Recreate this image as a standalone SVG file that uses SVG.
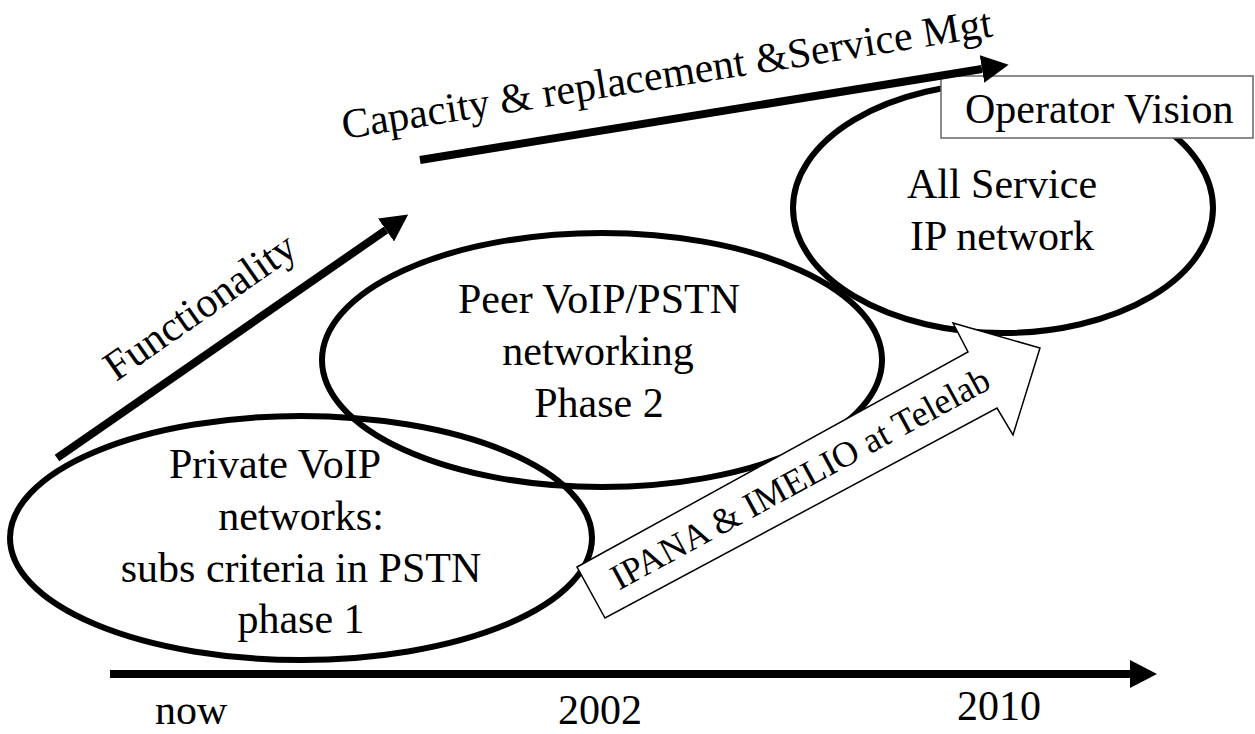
<svg xmlns="http://www.w3.org/2000/svg" width="1255" height="734" viewBox="0 0 1255 734">
  <style>
    .ell { fill: none; stroke: #000; stroke-width: 6; }
    .lbl { font-family: "Liberation Serif", "Times New Roman", serif; font-size: 42px; fill: #000; }
    .mid { text-anchor: middle; }
    .conn { stroke: #000; stroke-width: 8; fill: none; }
    .block { fill: #fff; stroke: #000; stroke-width: 1.5; stroke-linejoin: miter; }
    .box { fill: #fff; stroke: #666; stroke-width: 1.5; }
  </style>
  <defs>
    <marker id="head" viewBox="0 0 27 28" refX="0" refY="14" markerWidth="27" markerHeight="28" markerUnits="userSpaceOnUse" orient="auto">
      <path d="M0,0 L27,14 L0,28 Z" fill="#000"/>
    </marker>
  </defs>
  <rect width="1255" height="734" fill="#fff"/>

  <g id="phase1">
    <ellipse class="ell" cx="301" cy="538" rx="291" ry="122"/>
    <text class="lbl mid" x="275" y="478">Private VoIP</text>
    <text class="lbl mid" x="301" y="530">networks:</text>
    <text class="lbl mid" x="301" y="582">subs criteria in PSTN</text>
    <text class="lbl mid" x="301" y="633">phase 1</text>
  </g>

  <g id="phase2">
    <ellipse class="ell" cx="602" cy="360" rx="280" ry="127"/>
    <text class="lbl mid" x="599" y="313">Peer VoIP/PSTN</text>
    <text class="lbl mid" x="598" y="365">networking</text>
    <text class="lbl mid" x="599" y="417">Phase 2</text>
  </g>

  <g id="allservice">
    <ellipse class="ell" cx="1003" cy="208" rx="210" ry="125"/>
    <text class="lbl mid" x="1002" y="198">All Service</text>
    <text class="lbl mid" x="1002" y="250">IP network</text>
  </g>

  <g id="operator-vision">
    <rect class="box" x="941" y="76" width="312" height="62"/>
    <text class="lbl" x="965" y="123">Operator Vision</text>
  </g>

  <g id="connectors">
    <line class="conn" x1="57" y1="458" x2="386" y2="230" marker-end="url(#head)"/>
    <line class="conn" x1="420" y1="160" x2="982" y2="69" marker-end="url(#head)"/>
    <line class="conn" x1="110" y1="674" x2="1130" y2="674" stroke-width="9" marker-end="url(#head)"/>
  </g>

  <g id="connector-labels">
    <text class="lbl" x="116" y="382" transform="rotate(-35 116 382)">Functionality</text>
    <text class="lbl" x="344" y="139" transform="rotate(-9 344 139)">Capacity &amp; replacement &amp;Service Mgt</text>
  </g>

  <g id="ipana-arrow">
    <polygon class="block" points="577,567 968,352 953,323 1040,348 1013,435 997,408 605,618"/>
    <text class="lbl mid" x="806" y="489" style="font-size:36px" transform="rotate(-28.5 806 489)">IPANA &amp; IMELIO at Telelab</text>
  </g>

  <g id="timeline-labels">
    <text class="lbl" x="155" y="724">now</text>
    <text class="lbl" x="558" y="724">2002</text>
    <text class="lbl" x="957" y="720">2010</text>
  </g>
</svg>
